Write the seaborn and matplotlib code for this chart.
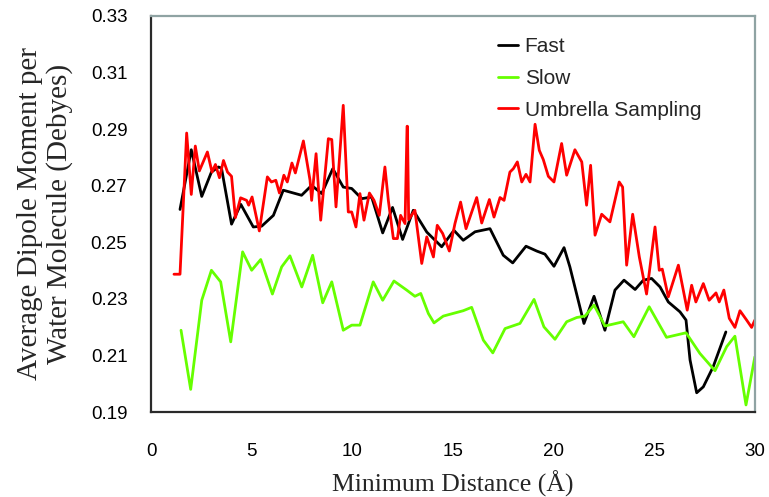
import matplotlib
matplotlib.use("Agg")
import matplotlib.pyplot as plt
import seaborn as sns
import pandas as pd

# Minimum distance (Å) and average dipole moment (Debyes) for each sampling scheme
fast_x = [1.44, 2.0, 2.52, 3.0, 3.35, 3.5, 4.0, 4.46, 5.08, 5.5, 6.08, 6.57, 7.48, 7.98,
          8.48, 9.03, 9.55, 9.97, 10.47, 10.96, 11.51, 12.0, 12.5, 13.03, 13.7, 14.44,
          15.05, 15.51, 16.1, 16.84, 17.5, 17.97, 18.63, 19.16, 19.57, 20.02, 20.52,
          20.81, 21.51, 22.01, 22.55, 23.05, 23.5, 24.05, 24.46, 24.87, 25.29, 25.7,
          26.28, 26.58, 26.78, 27.11, 27.44, 27.93, 28.56]
fast_y = [0.2616, 0.2827, 0.2662, 0.2748, 0.2766, 0.2762, 0.2564, 0.2634, 0.2554, 0.2557,
          0.2595, 0.2684, 0.2666, 0.2701, 0.2672, 0.2760, 0.2695, 0.2690, 0.2654, 0.2660,
          0.2533, 0.2623, 0.2510, 0.2613, 0.2536, 0.2484, 0.2542, 0.2507, 0.2537, 0.2548,
          0.2454, 0.2427, 0.2486, 0.2469, 0.2458, 0.2415, 0.2481, 0.2413, 0.2213, 0.2309,
          0.2189, 0.2331, 0.2366, 0.2333, 0.2366, 0.2372, 0.2342, 0.2289, 0.2254, 0.2225,
          0.2084, 0.1968, 0.1989, 0.2060, 0.2183]

slow_x = [1.49, 1.97, 2.52, 3.0, 3.46, 3.96, 4.55, 5.0, 5.45, 6.03, 6.49, 6.9, 7.49, 8.03,
          8.53, 8.98, 9.55, 9.97, 10.38, 11.04, 11.51, 12.07, 12.7, 13.11, 13.4, 13.78,
          14.06, 14.52, 15.51, 15.93, 16.51, 16.98, 17.59, 18.33, 19.03, 19.52, 20.07,
          20.65, 21.15, 21.56, 22.01, 22.55, 23.46, 23.99, 24.75, 25.61, 26.58, 27.27,
          28.02, 28.6, 29.01, 29.56, 30.0]
slow_y = [0.2189, 0.1980, 0.2295, 0.2401, 0.2360, 0.2148, 0.2466, 0.2401, 0.2439, 0.2317,
          0.2413, 0.2452, 0.2342, 0.2454, 0.2286, 0.2360, 0.2189, 0.2207, 0.2207, 0.2360,
          0.2295, 0.2363, 0.2331, 0.2309, 0.2319, 0.2248, 0.2215, 0.2239, 0.2258, 0.2270,
          0.2154, 0.2109, 0.2195, 0.2213, 0.2298, 0.2201, 0.2157, 0.2219, 0.2234, 0.2239,
          0.2278, 0.2204, 0.2219, 0.2166, 0.2272, 0.2164, 0.2180, 0.2107, 0.2046, 0.2131,
          0.2168, 0.1925, 0.2095]

umbrella_x = [1.14, 1.44, 1.77, 2.0, 2.2, 2.4, 2.8, 3.03, 3.2, 3.4, 3.6, 3.8, 4.0, 4.19,
              4.45, 4.75, 4.85, 5.02, 5.38, 5.78, 5.98, 6.2, 6.38, 6.6, 6.77, 7.0, 7.17,
              7.57, 7.9, 7.98, 8.2, 8.43, 8.81, 8.98, 9.19, 9.55, 9.8, 9.97, 10.18, 10.38,
              10.58, 10.85, 11.08, 11.34, 11.62, 11.79, 12.04, 12.24, 12.4, 12.62, 12.72,
              12.74, 12.8, 13.11, 13.45, 13.7, 14.03, 14.22, 14.49, 14.82, 15.1, 15.38,
              15.65, 16.18, 16.43, 16.81, 17.04, 17.34, 17.54, 17.83, 18.0, 18.2, 18.42,
              18.63, 18.83, 19.08, 19.29, 19.49, 19.74, 20.02, 20.4, 20.65, 21.06, 21.4,
              21.64, 21.84, 22.06, 22.39, 22.8, 23.26, 23.43, 23.63, 23.93, 24.26, 24.62,
              25.04, 25.25, 25.4, 25.7, 26.2, 26.64, 26.86, 27.07, 27.44, 27.73, 28.07,
              28.23, 28.46, 28.73, 29.01, 29.26, 29.59, 29.84, 30.0]
umbrella_y = [0.2387, 0.2387, 0.2886, 0.2669, 0.2840, 0.2752, 0.2819, 0.2748, 0.2775, 0.2728,
              0.2789, 0.2748, 0.2733, 0.2587, 0.2657, 0.2648, 0.2631, 0.2660, 0.2540, 0.2731,
              0.2713, 0.2719, 0.2674, 0.2737, 0.2713, 0.2780, 0.2745, 0.2858, 0.2719, 0.2648,
              0.2813, 0.2578, 0.2866, 0.2863, 0.2625, 0.2984, 0.2607, 0.2607, 0.2554, 0.2672,
              0.2578, 0.2674, 0.2648, 0.2595, 0.2766, 0.2648, 0.2513, 0.2513, 0.2595, 0.2566,
              0.2910, 0.2910, 0.2580, 0.2613, 0.2425, 0.2519, 0.2448, 0.2560, 0.2531, 0.2469,
              0.2566, 0.2642, 0.2548, 0.2658, 0.2568, 0.2651, 0.2589, 0.2658, 0.2648, 0.2748,
              0.2760, 0.2784, 0.2713, 0.2740, 0.2713, 0.2917, 0.2825, 0.2792, 0.2733, 0.2713,
              0.2849, 0.2737, 0.2827, 0.2784, 0.2631, 0.2772, 0.2525, 0.2599, 0.2572, 0.2713,
              0.2695, 0.2419, 0.2599, 0.2448, 0.2317, 0.2554, 0.2401, 0.2405, 0.2307, 0.2419,
              0.2260, 0.2348, 0.2289, 0.2354, 0.2295, 0.2321, 0.2289, 0.2331, 0.2231, 0.2199,
              0.2258, 0.2225, 0.2199, 0.2225]

series_names = ["Fast", "Slow", "Umbrella Sampling"]
x_ticks = [0, 5, 10, 15, 20, 25, 30]
y_ticks = [0.19, 0.21, 0.23, 0.25, 0.27, 0.29, 0.31, 0.33]

frames = []
for name, xs, ys in zip(series_names, [fast_x, slow_x, umbrella_x],
                        [fast_y, slow_y, umbrella_y]):
    frames.append(pd.DataFrame({"dist": xs, "dipole": ys, "series": name}))
data = pd.concat(frames, ignore_index=True)

sns.set_style("white")
plt.rcParams["font.family"] = ["Liberation Sans", "DejaVu Sans"]

fig = plt.figure(figsize=(7.69, 4.97), dpi=100)
ax = fig.add_axes([0.1964, 0.171, 0.7852, 0.797])

palette = {"Fast": "#000000", "Slow": "#66ff00", "Umbrella Sampling": "#ff0000"}
sns.lineplot(data=data, x="dist", y="dipole", hue="series", palette=palette,
             hue_order=series_names, sort=False, estimator=None, linewidth=2.0,
             ax=ax, legend=True)

ax.set_xlim(0, 30)
ax.set_ylim(0.19, 0.33)
ax.set_xticks(x_ticks)
ax.set_xticklabels([str(t) for t in x_ticks])
ax.set_yticks(y_ticks)
ax.set_yticklabels([f"{t:.2f}" for t in y_ticks])
ax.tick_params(axis="both", direction="in", length=5, width=1, color="#333333",
               labelsize=13.5, colors="#000000")
ax.tick_params(axis="x", pad=22)
ax.tick_params(axis="y", pad=17)

for side in ("left", "bottom"):
    ax.spines[side].set_color("#2a2a2a")
    ax.spines[side].set_linewidth(1.6)
for side in ("top", "right"):
    ax.spines[side].set_color("#8fa3a3")
    ax.spines[side].set_linewidth(1.6)

ax.set_xlabel("Minimum Distance (Å)", fontsize=18.5, family="Liberation Serif", labelpad=8)
ax.set_ylabel("Average Dipole Moment per\nWater Molecule (Debyes)", fontsize=21,
              family="Liberation Serif", labelpad=13, linespacing=1.12)

leg = ax.legend(loc="upper left", bbox_to_anchor=(0.56, 0.968), frameon=False,
                fontsize=15, handlelength=1.0, handletextpad=0.3, labelspacing=0.62,
                borderaxespad=0)
for line in leg.get_lines():
    line.set_linewidth(2.0)

fig.savefig("out.png", dpi=100)
